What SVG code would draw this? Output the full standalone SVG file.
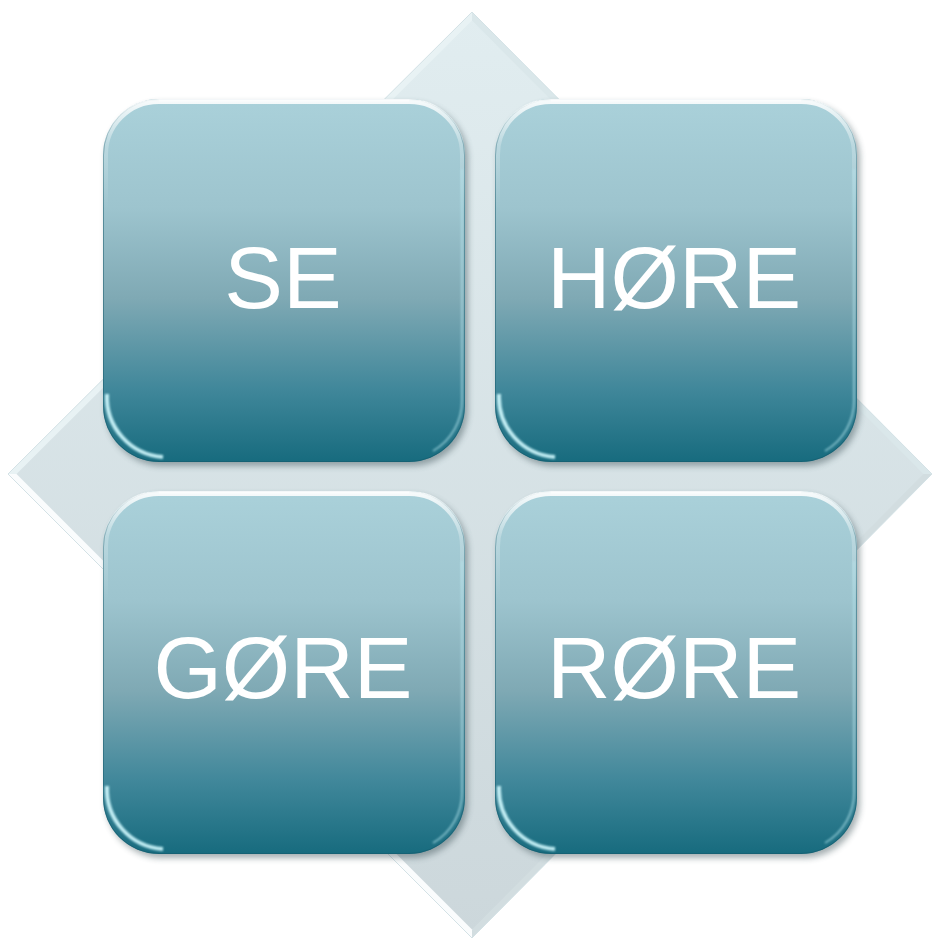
<svg xmlns="http://www.w3.org/2000/svg" xmlns:xlink="http://www.w3.org/1999/xlink" width="932" height="939" viewBox="0 0 932 939">
  <style>
    .lbl { font-family: "Liberation Sans", Arial, sans-serif; font-size: 88px; fill: #ffffff; text-anchor: middle; }
  </style>
  <defs>
    <linearGradient id="boxFill" x1="0" y1="0" x2="0" y2="1">
      <stop offset="0" stop-color="#AAD1DA"/>
      <stop offset="0.3" stop-color="#9DC4CE"/>
      <stop offset="0.55" stop-color="#7FA9B4"/>
      <stop offset="0.8" stop-color="#40879A"/>
      <stop offset="1" stop-color="#176B7E"/>
    </linearGradient>
    <linearGradient id="diaFill" x1="0" y1="0" x2="0" y2="1">
      <stop offset="0" stop-color="#E1EDF0"/>
      <stop offset="1" stop-color="#CCD7DB"/>
    </linearGradient>
    <linearGradient id="topHl" x1="0" y1="0" x2="0" y2="1">
      <stop offset="0" stop-color="#ffffff" stop-opacity="0.9"/>
      <stop offset="0.12" stop-color="#ffffff" stop-opacity="0.25"/>
      <stop offset="0.3" stop-color="#ffffff" stop-opacity="0"/>
    </linearGradient>
    <filter id="shadow" x="-10%" y="-10%" width="120%" height="120%">
      <feGaussianBlur stdDeviation="3"/>
    </filter>
    <filter id="soft" x="-20%" y="-20%" width="140%" height="140%">
      <feGaussianBlur stdDeviation="1.2"/>
    </filter>
    <g id="box">
      <rect x="3" y="4" width="362" height="363" rx="56" fill="#3a4f55" opacity="0.45" filter="url(#shadow)"/>
      <rect x="0" y="0" width="362" height="363" rx="56" fill="url(#boxFill)"/>
      <rect x="0.5" y="0.5" width="361" height="362" rx="55.5" fill="none" stroke="#14586A" stroke-width="1" opacity="0.5"/>
      <rect x="2.5" y="2.5" width="357" height="358" rx="53" fill="none" stroke="url(#topHl)" stroke-width="5"/>
      <path d="M 4 295 A 60 60 0 0 0 60 358" fill="none" stroke="#D2FAFF" stroke-width="4" opacity="0.9" filter="url(#soft)"/>
      <path d="M 359 70 L 359 300 A 58 58 0 0 1 330 352" fill="none" stroke="#B5E6EE" stroke-width="2" opacity="0.6" filter="url(#soft)"/>
      <path d="M 56 1.5 L 306 1.5" stroke="#ffffff" stroke-width="2" opacity="0.6"/>
    </g>
  </defs>

  <g id="background-diamond">
    <polygon points="472,12 932,474 472,938 8,474" fill="url(#diaFill)"/>
    <polygon points="472,12 8,474 16.5,474 472,20.5" fill="#E8F2F4"/>
    <polygon points="472,12 932,474 923.5,474 472,20.5" fill="#DAE7EA"/>
    <polygon points="932,474 472,938 472,929.5 923.5,474" fill="#D2DDE0"/>
    <polygon points="8,474 472,938 472,929.5 16.5,474" fill="#FAFCFD"/>
    <polygon points="472,12 932,474 472,938 8,474" fill="none" stroke="#D4E2E6" stroke-width="1"/>
  </g>

  <g id="connectors"></g>

  <g id="node-se">
    <use xlink:href="#box" transform="translate(103,99)"/>
    <text class="lbl" x="283" y="308">SE</text>
  </g>
  <g id="node-hore">
    <use xlink:href="#box" transform="translate(495,99)"/>
    <text class="lbl" x="674" y="308">HØRE</text>
  </g>
  <g id="node-gore">
    <use xlink:href="#box" transform="translate(103,491)"/>
    <text class="lbl" x="283" y="698">GØRE</text>
  </g>
  <g id="node-rore">
    <use xlink:href="#box" transform="translate(495,491)"/>
    <text class="lbl" x="674" y="698">RØRE</text>
  </g>
</svg>
